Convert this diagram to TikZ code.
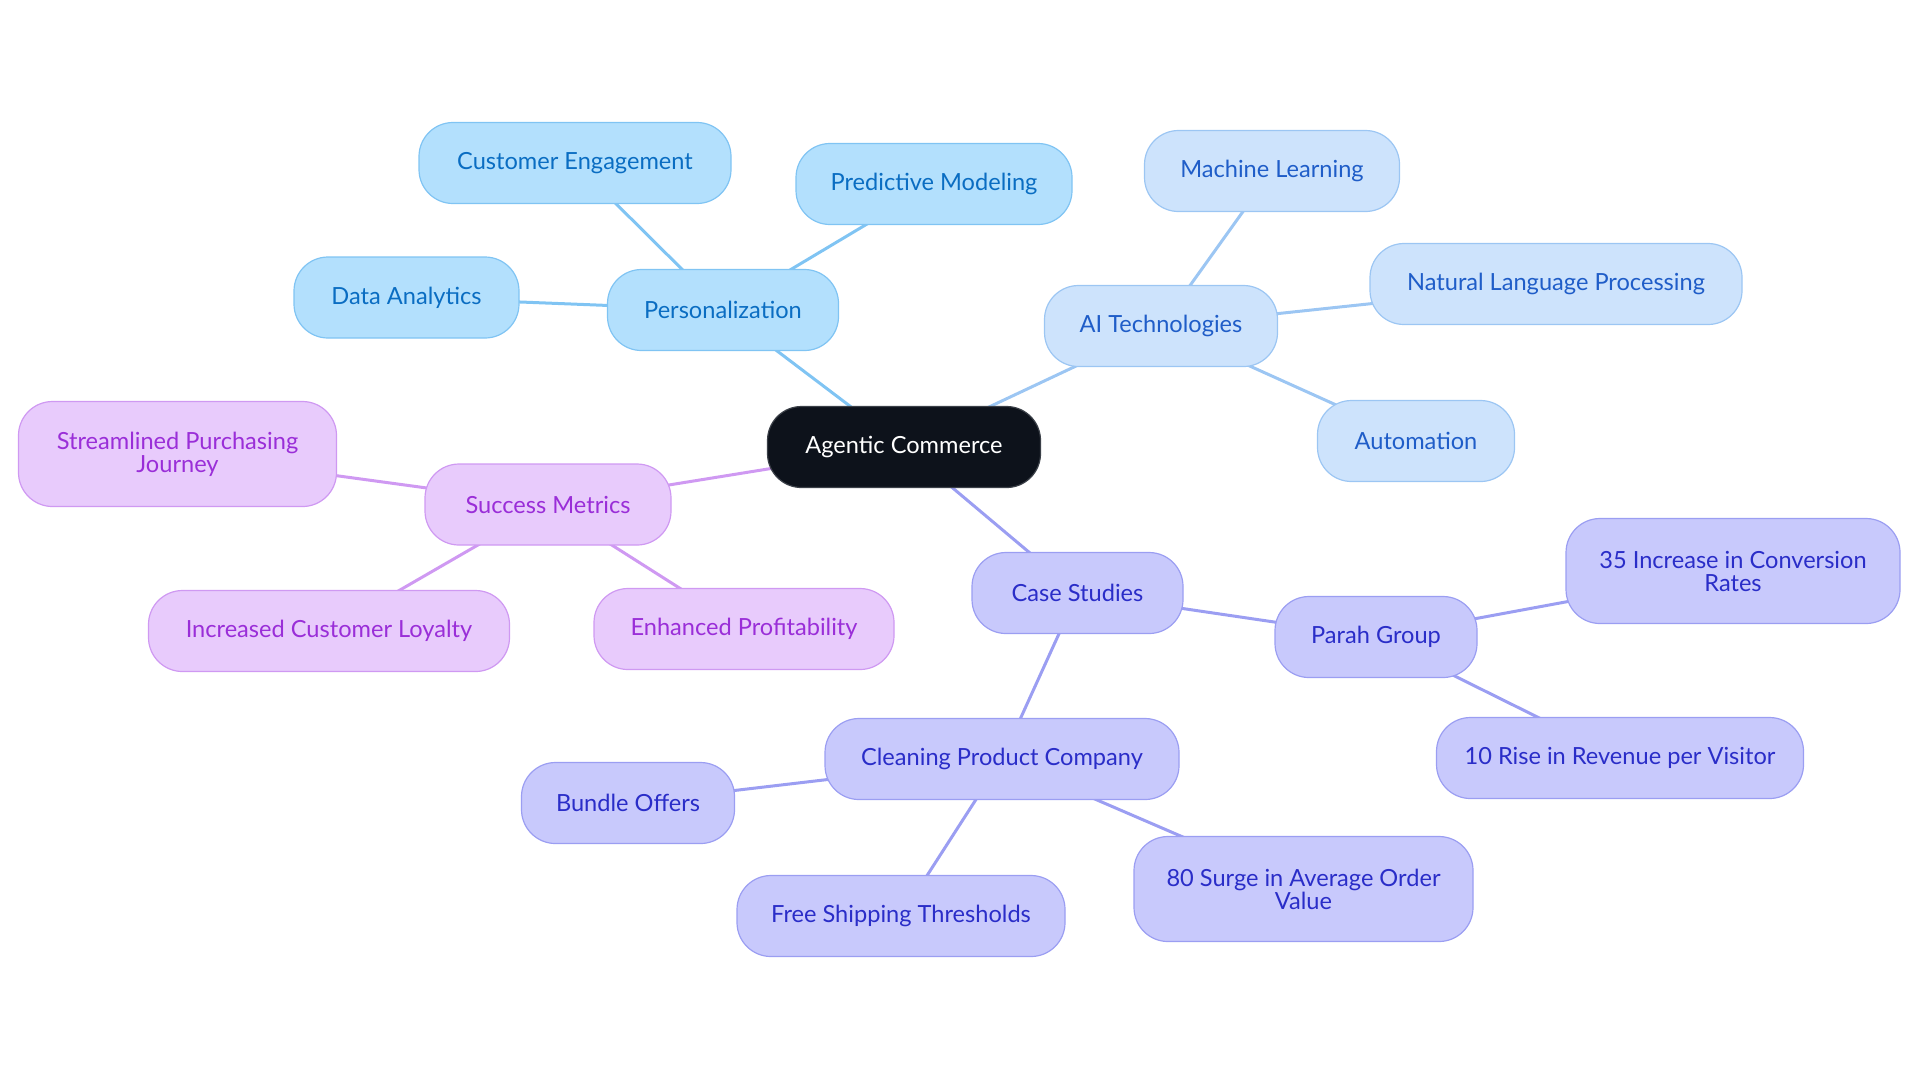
\documentclass[tikz,border=0pt]{standalone}
\usepackage{fontspec}
\setmainfont{Lato}
\usepackage{xcolor}
\definecolor{acink}{HTML}{0D121B}
\definecolor{acinkrule}{HTML}{3B4048}
\definecolor{acskyfill}{HTML}{B3E0FD}
\definecolor{acskyrule}{HTML}{80C4F3}
\definecolor{acskytext}{HTML}{0A6DC2}
\definecolor{acicefill}{HTML}{CDE3FC}
\definecolor{acicerule}{HTML}{9CC6F3}
\definecolor{acicetext}{HTML}{1F5DC8}
\definecolor{aclilacfill}{HTML}{E8CBFC}
\definecolor{aclilacrule}{HTML}{CF99F2}
\definecolor{aclilactext}{HTML}{9A2ED8}
\definecolor{acperifill}{HTML}{C8C9FC}
\definecolor{acperirule}{HTML}{9B9EF2}
\definecolor{acperitext}{HTML}{2A2DC8}
\usepackage{tikz}
\usetikzlibrary{backgrounds}
\tikzset{
  acnode/.style  ={rectangle, rounded corners=17pt, line width=0.6pt,
                   minimum height=40.5pt, inner sep=0pt, align=center,
                   font=\fontsize{11.8}{11.5}\selectfont},
  acroot/.style  ={acnode, fill=acink, draw=acinkrule, text=white},
  acsky/.style   ={acnode, fill=acskyfill, draw=acskyrule, text=acskytext},
  acice/.style   ={acnode, fill=acicefill, draw=acicerule, text=acicetext},
  aclilac/.style ={acnode, fill=aclilacfill, draw=aclilacrule, text=aclilactext},
  acperi/.style  ={acnode, fill=acperifill, draw=acperirule, text=acperitext},
  actall/.style  ={minimum height=52.5pt},
  acedge/.style  ={line width=1.5pt},
}

\begin{document}
\begin{tikzpicture}[x=0.5pt, y=-0.5pt]
  \useasboundingbox (0,0) rectangle (1920,1083);
  % centre
  \node[acroot, minimum width=136.5pt] (root) at (904,447) {Agentic Commerce};
  % personalization branch
  \node[acsky, minimum width=115.5pt] (pers) at (723,310) {Personalization};
  \node[acsky, minimum width=156pt] (ceng) at (575,163) {Customer Engagement};
  \node[acsky, minimum width=138pt] (pmod) at (934,184) {Predictive Modeling};
  \node[acsky, minimum width=112.5pt] (dana) at (406.5,297.5) {Data Analytics};
  % ai branch
  \node[acice, minimum width=116.5pt] (aitech) at (1161,326) {AI Technologies};
  \node[acice, minimum width=127.5pt] (mlearn) at (1272,171) {Machine Learning};
  \node[acice, minimum width=186pt] (nlp) at (1556,284) {Natural Language Processing};
  \node[acice, minimum width=98.5pt] (auto) at (1416,441) {Automation};
  % metrics branch
  \node[aclilac, minimum width=123pt] (smet) at (548,504.5) {Success Metrics};
  \node[aclilac, actall, minimum width=159pt] (spj) at (177.5,454)
    {Streamlined Purchasing\\Journey};
  \node[aclilac, minimum width=180.5pt] (icl) at (329,631) {Increased Customer Loyalty};
  \node[aclilac, minimum width=150pt] (eprof) at (744,629) {Enhanced Profitability};
  % case studies branch
  \node[acperi, minimum width=105.5pt] (cases) at (1077.5,593) {Case Studies};
  \node[acperi, minimum width=101pt] (parah) at (1376,637) {Parah Group};
  \node[acperi, actall, minimum width=167pt] (conv) at (1733,571)
    {35 Increase in Conversion\\Rates};
  \node[acperi, minimum width=183.5pt] (rev) at (1620,758) {10 Rise in Revenue per Visitor};
  \node[acperi, minimum width=177pt] (clean) at (1002,759) {Cleaning Product Company};
  \node[acperi, minimum width=106.5pt] (bundle) at (628,803) {Bundle Offers};
  \node[acperi, minimum width=164pt] (ship) at (901,916) {Free Shipping Thresholds};
  \node[acperi, actall, minimum width=169.5pt] (aov) at (1303.5,889)
    {80 Surge in Average Order\\Value};
  % connectors
  \begin{scope}[on background layer]
    \foreach \a/\b in {root/pers, pers/ceng, pers/pmod, pers/dana}
      \draw[acedge, draw=acskyrule] (\a.center) -- (\b.center);
    \foreach \a/\b in {root/aitech, aitech/mlearn, aitech/nlp, aitech/auto}
      \draw[acedge, draw=acicerule] (\a.center) -- (\b.center);
    \foreach \a/\b in {root/smet, smet/spj, smet/icl, smet/eprof}
      \draw[acedge, draw=aclilacrule] (\a.center) -- (\b.center);
    \foreach \a/\b in {root/cases, cases/parah, parah/conv, parah/rev,
                       cases/clean, clean/bundle, clean/ship, clean/aov}
      \draw[acedge, draw=acperirule] (\a.center) -- (\b.center);
  \end{scope}
\end{tikzpicture}
\end{document}
